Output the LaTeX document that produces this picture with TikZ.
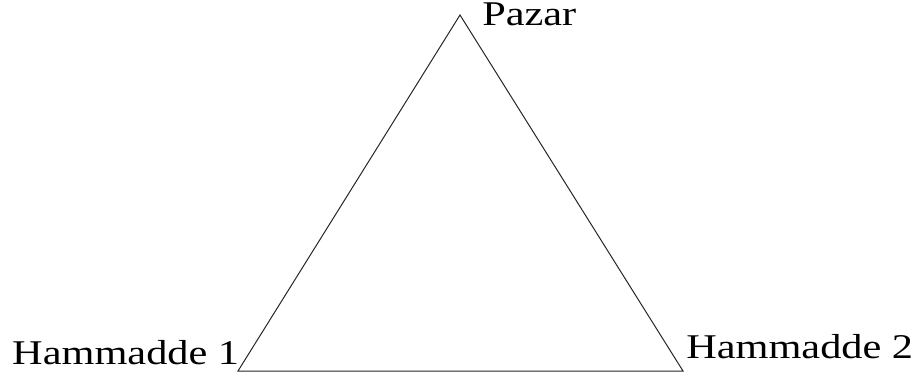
\documentclass[tikz,border=0pt]{standalone}
\usepackage{fontspec}
\setmainfont{Liberation Serif}
\begin{document}
\begin{tikzpicture}[x=1pt,y=1pt,
  lbl/.style={anchor=base west,inner sep=0pt,font=\fontsize{34.7}{40}\selectfont,xscale=1.22},
  edge/.style={draw=black!85,line width=1pt,line join=miter}]
\useasboundingbox (0,0) rectangle (923,380);
\coordinate (top) at (460,365);
\coordinate (bl) at (238,9);
\coordinate (br) at (683,9);
\draw[edge] (top) -- (bl) -- (br) -- cycle;
\node[lbl] (pazar) at (482,354) {Pazar};
\node[lbl] (h1) at (12,16) {Hammadde 1};
\node[lbl] (h2) at (686,22) {Hammadde 2};
\end{tikzpicture}
\end{document}
